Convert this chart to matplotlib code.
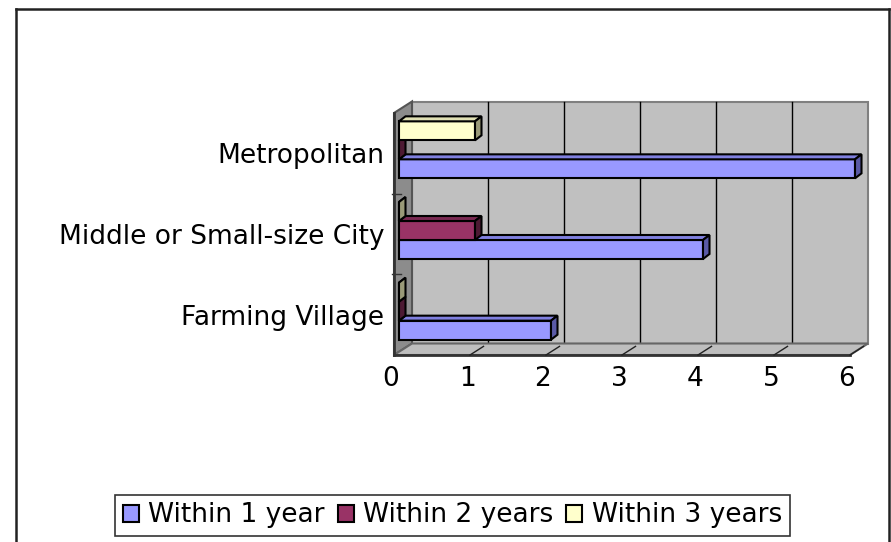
import matplotlib
matplotlib.use('Agg')
import matplotlib.pyplot as plt
from matplotlib.patches import Polygon, Patch
from matplotlib.lines import Line2D
from matplotlib.transforms import ScaledTranslation

categories = ['Farming Village', 'Middle or Small-size City', 'Metropolitan']
series_names = ['Within 1 year', 'Within 2 years', 'Within 3 years']
within_1_year = [2, 4, 6]
within_2_years = [0, 1, 0]
within_3_years = [0, 0, 1]
x_ticks = [0, 1, 2, 3, 4, 5, 6]

series = [within_1_year, within_2_years, within_3_years]
front_colors = ['#9999FF', '#993366', '#FFFFCC']
top_colors = ['#8080E0', '#7a2952', '#E0E0B4']
side_colors = ['#5a5aa6', '#4d1a33', '#9a9a78']

plt.rcParams['font.family'] = ['DejaVu Sans']
W, H = 891, 542
fig = plt.figure(figsize=(W / 100, H / 100), dpi=100)
fig.patch.set_facecolor('white')

ax = fig.add_axes([394 / W, 1 - 355 / H, 456 / W, 242 / H])
ax.set_xlim(0, 6)
ax.set_ylim(-0.5, 2.5)
ax.set_facecolor('none')
for sp in ax.spines.values():
    sp.set_visible(False)

ux = 6 / 456.0   # data units per pixel (x)
uy = 3 / 242.0   # data units per pixel (y)
DX, DY = 18 * ux, 11.5 * uy        # wall depth
BX = 5 * ux                        # bar recess
bdx, bdy = 6.5 * ux, 5 * uy        # bar depth
h = 19 * uy
goff = 3.5 * uy
offsets = [goff - h, goff, goff + h]

y0, y1 = -0.5, 2.5
x0, x1 = x_ticks[0], x_ticks[-1]

# walls
ax.add_patch(Polygon([(x0 + DX, y0 + DY), (x1 + DX, y0 + DY), (x1 + DX, y1 + DY), (x0 + DX, y1 + DY)],
                     closed=True, facecolor='#C0C0C0', edgecolor='#808080', lw=1.5, clip_on=False, zorder=1))
ax.add_patch(Polygon([(x0, y0), (x0 + DX, y0 + DY), (x0 + DX, y1 + DY), (x0, y1)],
                     closed=True, facecolor='#8C8C8C', edgecolor='#555555', lw=1.5, clip_on=False, zorder=1.2))
ax.add_patch(Polygon([(x0, y0), (x1, y0), (x1 + DX, y0 + DY), (x0 + DX, y0 + DY)],
                     closed=True, facecolor='#BEBEBE', edgecolor='#666666', lw=1.5, clip_on=False, zorder=1.2))
ax.plot([x0, x0], [y0, y1], color='#333333', lw=2, clip_on=False, zorder=1.3)
ax.plot([x0, x1], [y0, y0], color='#333333', lw=2, clip_on=False, zorder=1.3)

# gridlines on back wall
for k in x_ticks[1:-1]:
    ax.plot([k + DX, k + DX], [y0 + DY, y1 + DY], color='black', lw=1, clip_on=False, zorder=1.1)
# floor tick marks
for k in x_ticks[1:]:
    ax.plot([k, k + 0.75 * DX], [y0, y0 + 0.75 * DY], color='#222222', lw=1, clip_on=False, zorder=1.3)
# category boundary ticks
for b in [0.5, 1.5]:
    ax.plot([x0 - 0.02, x0 + 0.4 * DX], [b, b], color='#333333', lw=1, clip_on=False, zorder=1.3)

# bars
ypos = list(range(len(categories)))
for s, vals in enumerate(series):
    z = 2 + s
    ys = [y + offsets[s] for y in ypos]
    ax.barh(ys, vals, height=h, left=BX, color=front_colors[s], edgecolor='black',
            linewidth=1.5, zorder=z, clip_on=False)
    for yc, v in zip(ys, vals):
        bot, top = yc - h / 2, yc + h / 2
        xr = BX + v
        ax.add_patch(Polygon([(BX, top), (xr, top), (xr + bdx, top + bdy), (BX + bdx, top + bdy)],
                             closed=True, facecolor=top_colors[s], edgecolor='black', lw=1.5,
                             zorder=z + 0.1, clip_on=False, joinstyle='miter'))
        ax.add_patch(Polygon([(xr, bot), (xr, top), (xr + bdx, top + bdy), (xr + bdx, bot + bdy)],
                             closed=True, facecolor=side_colors[s], edgecolor='black', lw=1.5,
                             zorder=z + 0.1, clip_on=False, joinstyle='miter'))

ax.set_yticks(ypos)
ax.set_yticklabels(categories, fontsize=19)
ax.tick_params(axis='y', length=0, pad=7)
ax.set_xticks(x_ticks)
ax.set_xticklabels([str(t) for t in x_ticks], fontsize=19)
ax.tick_params(axis='x', length=0, pad=8)
for lab in ax.get_xticklabels():
    lab.set_transform(lab.get_transform() + ScaledTranslation(-3 / 100, 0, fig.dpi_scale_trans))

# outer chart border
for xs, ys in [([16, 16], [0, 9]), ([16, 889], [9, 9]), ([889, 889], [9, 542])]:
    if xs[0] == xs[1] and xs[0] == 16:
        ys = [9, 542]
    fig.add_artist(Line2D([x / W for x in xs], [1 - y / H for y in ys],
                          transform=fig.transFigure, color='#222222', lw=1.8))

# legend
handles = [Patch(facecolor=c, edgecolor='black', linewidth=1.5) for c in front_colors]
leg = fig.legend(handles, series_names, loc='center',
                 bbox_to_anchor=((112 + 793) / 2 / W, 1 - 515.5 / H), ncol=3,
                 frameon=True, fancybox=False, edgecolor='black', fontsize=19,
                 handlelength=0.6, handleheight=0.6, handletextpad=0.35,
                 columnspacing=0.5, borderpad=0.3, borderaxespad=0)
leg.get_frame().set_linewidth(1.2)

fig.savefig('out.png', dpi=100, facecolor='white')
